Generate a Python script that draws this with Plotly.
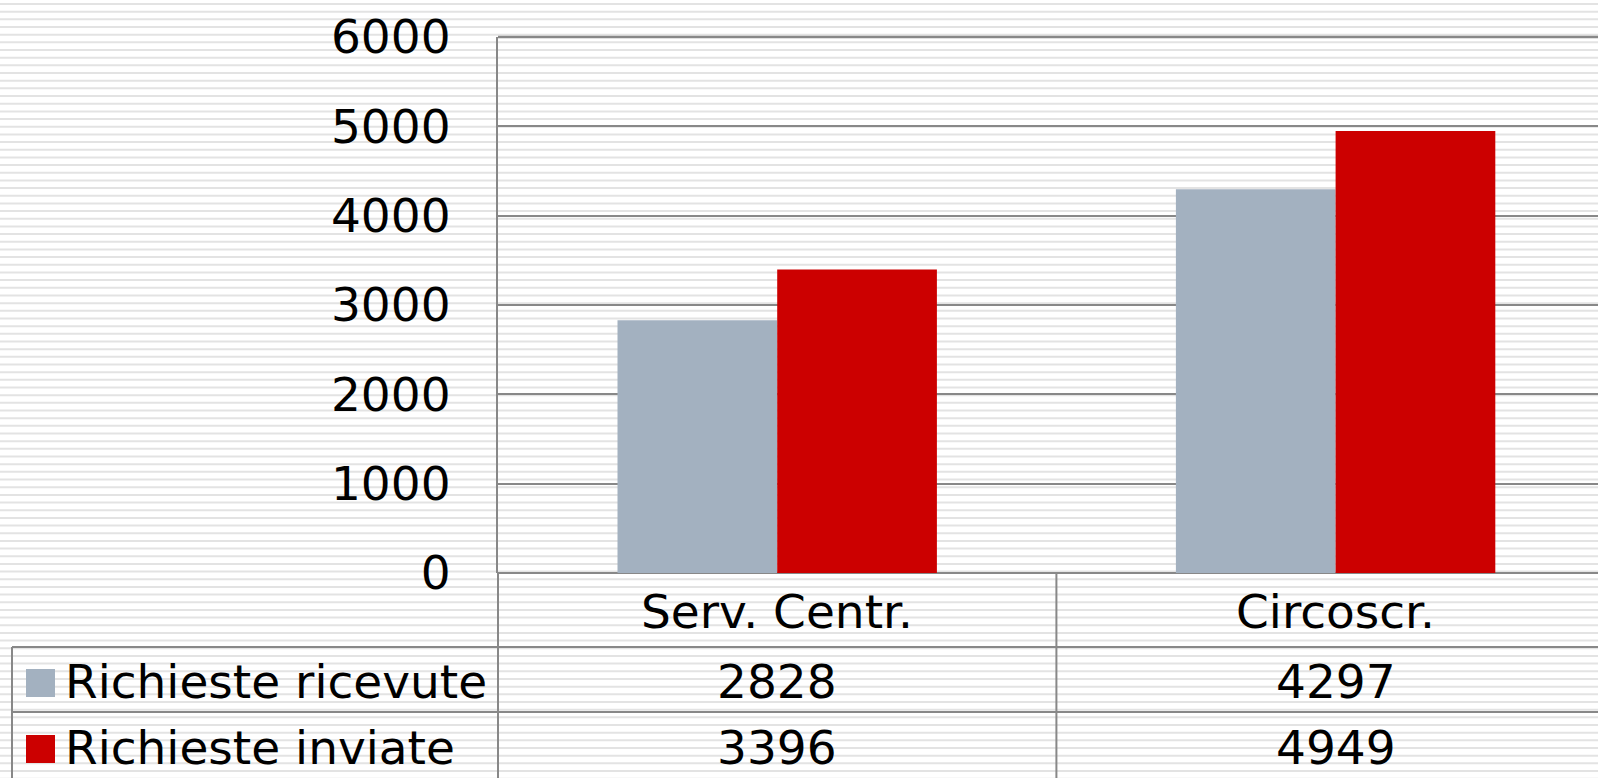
import plotly.graph_objects as go

categories = ["Serv. Centr.", "Circoscr."]
series_names = ["Richieste ricevute", "Richieste inviate"]
ricevute = [2828, 4297]
inviate = [3396, 4949]
series_values = [ricevute, inviate]
series_colors = ["#A3B1C0", "#CC0000"]
y_ticks = [0, 1000, 2000, 3000, 4000, 5000, 6000]

W, H = 1598, 778
FONT = "DejaVu Sans"
FS = 47
GRID = "#888888"

def px(x):
    return x / W

def py(y):
    return 1 - y / H

fig = go.Figure()
for name, vals, col in zip(series_names, series_values, series_colors):
    fig.add_trace(go.Bar(x=categories, y=vals, name=name,
                         marker=dict(color=col, line=dict(width=0)),
                         showlegend=False, hoverinfo="skip"))

x_left, y_zero, y_top = 498, 573, 37
cat_w = 558.4
span = (W - x_left) / cat_w

shapes = []
# striped background
path = []
y = 3.0
while y < H:
    path.append(f"M0,{py(y):.5f} H1 V{py(y + 2):.5f} H0 Z")
    y += 7.67
shapes.append(dict(type="path", xref="paper", yref="paper", path=" ".join(path),
                   fillcolor="#e3e3e3", line=dict(width=0), layer="below"))

def hline(x0, x1, yy, w=2):
    shapes.append(dict(type="line", xref="paper", yref="paper",
                       x0=px(x0), x1=px(x1), y0=py(yy), y1=py(yy),
                       line=dict(color=GRID, width=w)))

def vline(xx, y0, y1, w=2):
    shapes.append(dict(type="line", xref="paper", yref="paper",
                       x0=px(xx), x1=px(xx), y0=py(y0), y1=py(y1),
                       line=dict(color=GRID, width=w)))

# top gridline (6000)
hline(x_left, W, y_top, 2.5)
# table lines
hline(12, W, 647)
hline(12, W, 712)
vline(12, 647, H)
vline(x_left, y_zero, H)
# category separator (data x = 0.5)
shapes.append(dict(type="line", xref="x", yref="paper", x0=0.5, x1=0.5,
                   y0=py(y_zero), y1=py(H), line=dict(color=GRID, width=2)))

# legend squares
for yc, col in zip([683, 749], series_colors):
    shapes.append(dict(type="rect", xref="paper", yref="paper",
                       x0=px(26), x1=px(55), y0=py(yc - 14), y1=py(yc + 14),
                       fillcolor=col, line=dict(width=0)))

annotations = []
row_y = [681, 747]
for name, yc in zip(series_names, row_y):
    annotations.append(dict(text=name, xref="paper", yref="paper", x=px(63), y=py(yc),
                            xanchor="left", yanchor="middle", showarrow=False,
                            font=dict(family=FONT, size=FS, color="black")))
for i, cat in enumerate(categories):
    annotations.append(dict(text=cat, xref="x", yref="paper", x=i, y=py(611),
                            xanchor="center", yanchor="middle", showarrow=False,
                            font=dict(family=FONT, size=FS, color="black")))
    for vals, yc in zip(series_values, row_y):
        annotations.append(dict(text=str(vals[i]), xref="x", yref="paper", x=i, y=py(yc),
                                xanchor="center", yanchor="middle", showarrow=False,
                                font=dict(family=FONT, size=FS, color="black")))

fig.update_layout(
    width=W, height=H,
    margin=dict(l=0, r=0, t=0, b=0, pad=0),
    paper_bgcolor="white",
    plot_bgcolor="rgba(0,0,0,0)",
    barmode="group", bargap=0.428, bargroupgap=0,
    shapes=shapes, annotations=annotations,
    xaxis=dict(domain=[px(x_left), 1], range=[-0.5, -0.5 + span],
               showticklabels=False, showgrid=False, zeroline=False,
               showline=False, fixedrange=True, automargin=False),
    yaxis=dict(domain=[py(y_zero), py(y_top)], range=[0, 6000],
               tickvals=y_ticks, ticktext=[str(t) for t in y_ticks],
               showgrid=True, gridcolor=GRID, gridwidth=2,
               zeroline=True, zerolinecolor=GRID, zerolinewidth=2,
               showline=True, linecolor=GRID, linewidth=2,
               ticks="", ticklabelstandoff=36, automargin=False, fixedrange=True,
               tickfont=dict(family=FONT, size=FS, color="black")),
    showlegend=False,
)

fig.write_html("out.html", config={"displayModeBar": False},
               post_script="document.body.style.margin='0';document.body.style.overflow='hidden';")
